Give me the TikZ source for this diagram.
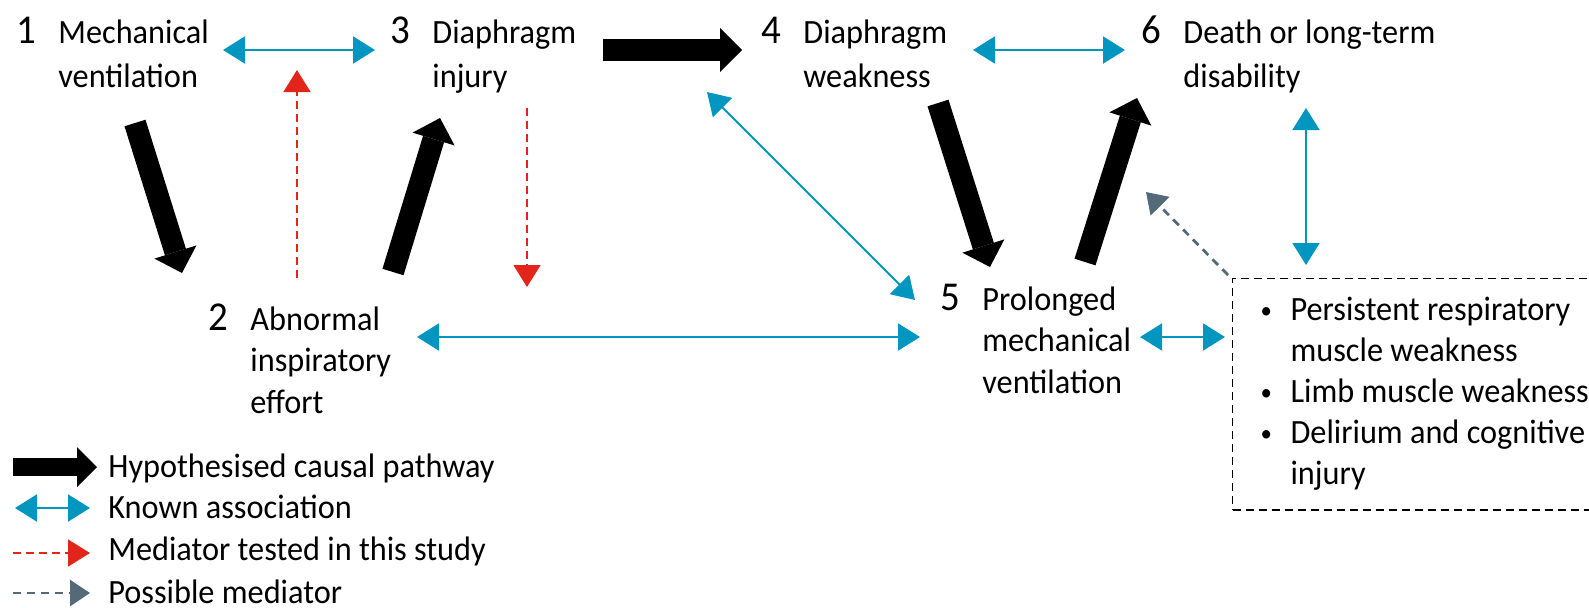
\documentclass[tikz,border=0pt]{standalone}
\usepackage{fontspec}
\setmainfont{Carlito}[FakeStretch=0.95]
\usepackage{xcolor}
\usetikzlibrary{arrows.meta, positioning}

\definecolor{assocblue}{HTML}{0096BF}
\definecolor{medred}{HTML}{E3241B}
\definecolor{possgrey}{HTML}{546A78}

% lines of a step label, with the node's baseline on the first line
\newcommand{\steplines}[1]{\begin{tabular}[t]{@{}l@{}}#1\end{tabular}}
\newcommand{\smallbullet}{\makebox[17pt][l]{\hspace{2pt}\raisebox{1pt}{\fontsize{12}{12}\selectfont\textbullet}}}

\begin{document}
\begin{tikzpicture}[x=0.5pt, y=-0.5pt,
    lab/.style={inner sep=0pt, anchor=base west, font=\fontsize{17}{20.75}\selectfont},
    toplab/.style={lab, font=\fontsize{17}{22}\selectfont},
    num/.style={inner sep=0pt, font=\fontsize{20.5}{20.5}\selectfont},
    cause/.style={line width=11pt, -{Triangle[width=22pt, length=11pt, line width=0pt]}},
    legcause/.style={line width=9pt, -{Triangle[width=20pt, length=10pt, line width=0pt]}},
    assoc/.style={assocblue, line width=1pt,
      {Triangle[width=13.5pt, length=11pt]}-{Triangle[width=13.5pt, length=11pt]}},
    tested/.style={medred, line width=0.8pt, dash pattern=on 4pt off 2.5pt,
      -{Triangle[width=13.5pt, length=11pt]}},
    possible/.style={possgrey, line width=1.4pt, dash pattern=on 4pt off 3pt,
      -{Triangle[width=13pt, length=10pt]}}]

  \useasboundingbox (0,0) rectangle (1589,607);
  \clip (0,0) rectangle (1589,607);

  % the six steps
  \node[toplab] (mechvent) at (58,43) {\steplines{Mechanical\\ventilation}};
  \node[lab] (effort) at (250,330) {\steplines{Abnormal\\inspiratory\\effort}};
  \node[toplab] (injury) at (432,43) {\steplines{Diaphragm\\injury}};
  \node[toplab] (weakness) at (803,43) {\steplines{Diaphragm\\weakness}};
  \node[lab] (prolonged) at (982,310) {\steplines{Prolonged\\mechanical\\ventilation}};
  \node[toplab] (outcome) at (1183,43) {\steplines{Death or long-term\\disability}};

  \node[num, base left=10.5pt of mechvent] (n1) {1};
  \node[num, base left=10.5pt of effort] (n2) {2};
  \node[num, base left=10.5pt of injury] (n3) {3};
  \node[num, base left=10.5pt of weakness] (n4) {4};
  \node[num, base left=10.5pt of prolonged] (n5) {5};
  \node[num, base left=10.5pt of outcome] (n6) {6};

  % long-term sequelae box
  \node[draw, line width=0.7pt, dash pattern=on 4pt off 2.5pt, inner xsep=8pt, inner ysep=6.6pt,
        minimum width=190pt, anchor=north west, font=\fontsize{17}{20.5}\selectfont] (risk) at (1232,278)
    {\begin{tabular}{@{}l@{}}
      \smallbullet Persistent respiratory\\
      \hspace{17pt}muscle weakness\\
      \smallbullet Limb muscle weakness\\
      \smallbullet Delirium and cognitive\\
      \hspace{17pt}injury
    \end{tabular}};

  % hypothesised causal pathway
  \draw[cause] ([shift={(77,80)}]mechvent.base west) -- ([shift={(-68,-57)}]effort.base west);
  \draw[cause] ([shift={(143,-58)}]effort.base west) -- ([shift={(8,75)}]injury.base west);
  \draw[cause] ([shift={(171,7)}]injury.base west) -- ([shift={(-61,7)}]weakness.base west);
  \draw[cause] ([shift={(135,60)}]weakness.base west) -- ([shift={(8,-43)}]prolonged.base west);
  \draw[cause] ([shift={(103,-48)}]prolonged.base west) -- ([shift={(-46,55)}]outcome.base west);

  % known associations
  \draw[assoc] ([shift={(165,7)}]mechvent.base west) -- ([shift={(-57,7)}]injury.base west);
  \draw[assoc] ([shift={(170,7)}]weakness.base west) -- ([shift={(-58,7)}]outcome.base west);
  \draw[assoc] ([shift={(-96,49)}]weakness.base west) -- ([shift={(-67,-10)}]prolonged.base west);
  \draw[assoc] ([shift={(167,7)}]effort.base west) -- ([shift={(-62,27)}]prolonged.base west);
  \draw[assoc] ([shift={(158,27)}]prolonged.base west) -- ([shift={(-7,59)}]risk.north west);
  \draw[assoc] ([shift={(123,65)}]outcome.base west) -- ([shift={(74,-13)}]risk.north west);

  % mediators
  \draw[tested] ([shift={(47,-52)}]effort.base west) -- ([shift={(239,27)}]mechvent.base west);
  \draw[tested] ([shift={(95,65)}]injury.base west) -- ([shift={(277,-43)}]effort.base west);
  \draw[possible] ([shift={(-4,-3)}]risk.north west) -- ([shift={(-37,149)}]outcome.base west);

  % legend
  \node[lab] (legcause) at (108,477) {Hypothesised causal pathway};
  \node[lab] (legassoc) at (108,518) {Known association};
  \node[lab] (legtested) at (108,560) {Mediator tested in this study};
  \node[lab] (legpossible) at (108,603) {Possible mediator};

  \draw[legcause] ([shift={(-95,-10)}]legcause.base west) -- ([shift={(-11,-10)}]legcause.base west);
  \draw[assoc] ([shift={(-93,-10)}]legassoc.base west) -- ([shift={(-18,-10)}]legassoc.base west);
  \draw[tested] ([shift={(-95,-7)}]legtested.base west) -- ([shift={(-18,-7)}]legtested.base west);
  \draw[possible] ([shift={(-95,-10)}]legpossible.base west) -- ([shift={(-18,-10)}]legpossible.base west);

\end{tikzpicture}
\end{document}
